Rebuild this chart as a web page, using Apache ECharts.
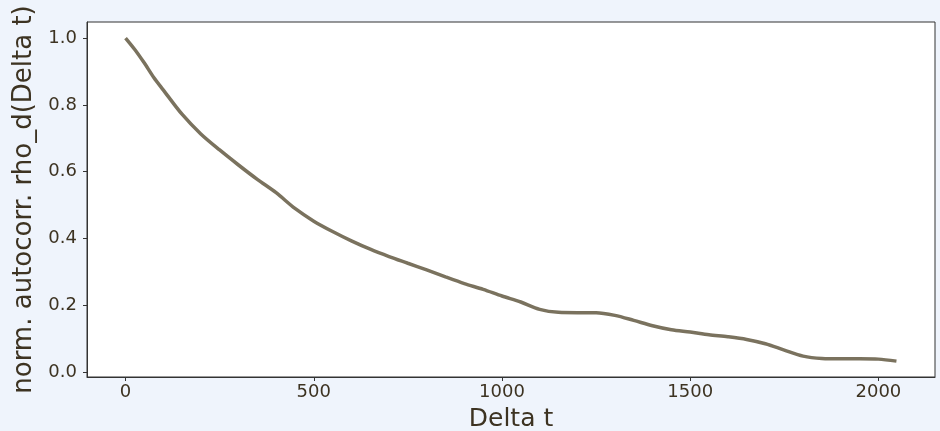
<!DOCTYPE html>
<html>
<head>
<meta charset="utf-8">
<script src="https://cdn.jsdelivr.net/npm/echarts@6/dist/echarts.min.js"></script>
<style>
  html, body { margin: 0; padding: 0; background: #eff4fc; }
  #chart { width: 940px; height: 431px; }
</style>
</head>
<body>
<div id="chart"></div>
<script>
  // lag values and normalized autocorrelation
  const lags = [0, 25, 50, 75, 100, 150, 200, 250, 300, 350, 400, 450, 500, 550, 600, 650, 700,
    750, 800, 850, 900, 950, 1000, 1050, 1100, 1150, 1200, 1250, 1300, 1350, 1400, 1450, 1500,
    1550, 1600, 1650, 1700, 1750, 1800, 1850, 1900, 1950, 2000, 2048];
  const rho = [1.0, 0.965, 0.925, 0.882, 0.845, 0.772, 0.713, 0.665, 0.62, 0.577, 0.537, 0.49,
    0.452, 0.421, 0.393, 0.368, 0.346, 0.326, 0.306, 0.285, 0.265, 0.248, 0.228, 0.21, 0.188,
    0.179, 0.178, 0.178, 0.17, 0.155, 0.139, 0.127, 0.12, 0.112, 0.106, 0.098, 0.085, 0.066,
    0.048, 0.041, 0.040, 0.040, 0.039, 0.033];
  const xTicks = [0, 500, 1000, 1500, 2000];
  const yTicks = [0, 0.2, 0.4, 0.6, 0.8, 1.0];

  const textColor = '#3d3322';
  const axisColor = '#333';

  const myChart = echarts.init(document.getElementById('chart'));
  const points = lags.map((x, i) => [x, rho[i]]);

  const option = {
    backgroundColor: '#eff4fc',
    animation: false,
    grid: {
      left: 87, right: 5, top: 22, bottom: 54,
      containLabel: false,
      outerBoundsMode: 'none',
      show: true,
      backgroundColor: '#fff',
      borderColor: axisColor,
      borderWidth: 1
    },
    xAxis: {
      type: 'value',
      min: -102.4,
      max: 2150.4,
      name: 'Delta t',
      nameLocation: 'middle',
      nameGap: 30,
      nameTextStyle: { fontSize: 25, color: textColor, fontFamily: 'DejaVu Sans' },
      axisLine: { show: true, onZero: false, lineStyle: { color: axisColor } },
      axisTick: { show: true, length: 4, lineStyle: { color: axisColor }, customValues: xTicks },
      axisLabel: {
        fontSize: 18, color: textColor, fontFamily: 'DejaVu Sans', margin: 6,
        customValues: xTicks,
        formatter: v => String(v)
      },
      splitLine: { show: false }
    },
    yAxis: {
      type: 'value',
      min: -0.0145,
      max: 1.048,
      name: 'norm. autocorr. rho_d(Delta t)',
      nameLocation: 'middle',
      nameGap: 47,
      nameTextStyle: { fontSize: 26, color: textColor, fontFamily: 'DejaVu Sans' },
      axisLine: { show: true, onZero: false, lineStyle: { color: axisColor } },
      axisTick: { show: true, length: 4, lineStyle: { color: axisColor }, customValues: yTicks },
      axisLabel: {
        fontSize: 18, color: textColor, fontFamily: 'DejaVu Sans', margin: 10,
        customValues: yTicks,
        formatter: v => v.toFixed(1)
      },
      splitLine: { show: false }
    },
    series: [{
      type: 'line',
      data: points,
      smooth: 0.3,
      showSymbol: false,
      lineStyle: { color: '#7a725e', width: 3.5 }
    }]
  };
  myChart.setOption(option);
</script>
</body>
</html>
